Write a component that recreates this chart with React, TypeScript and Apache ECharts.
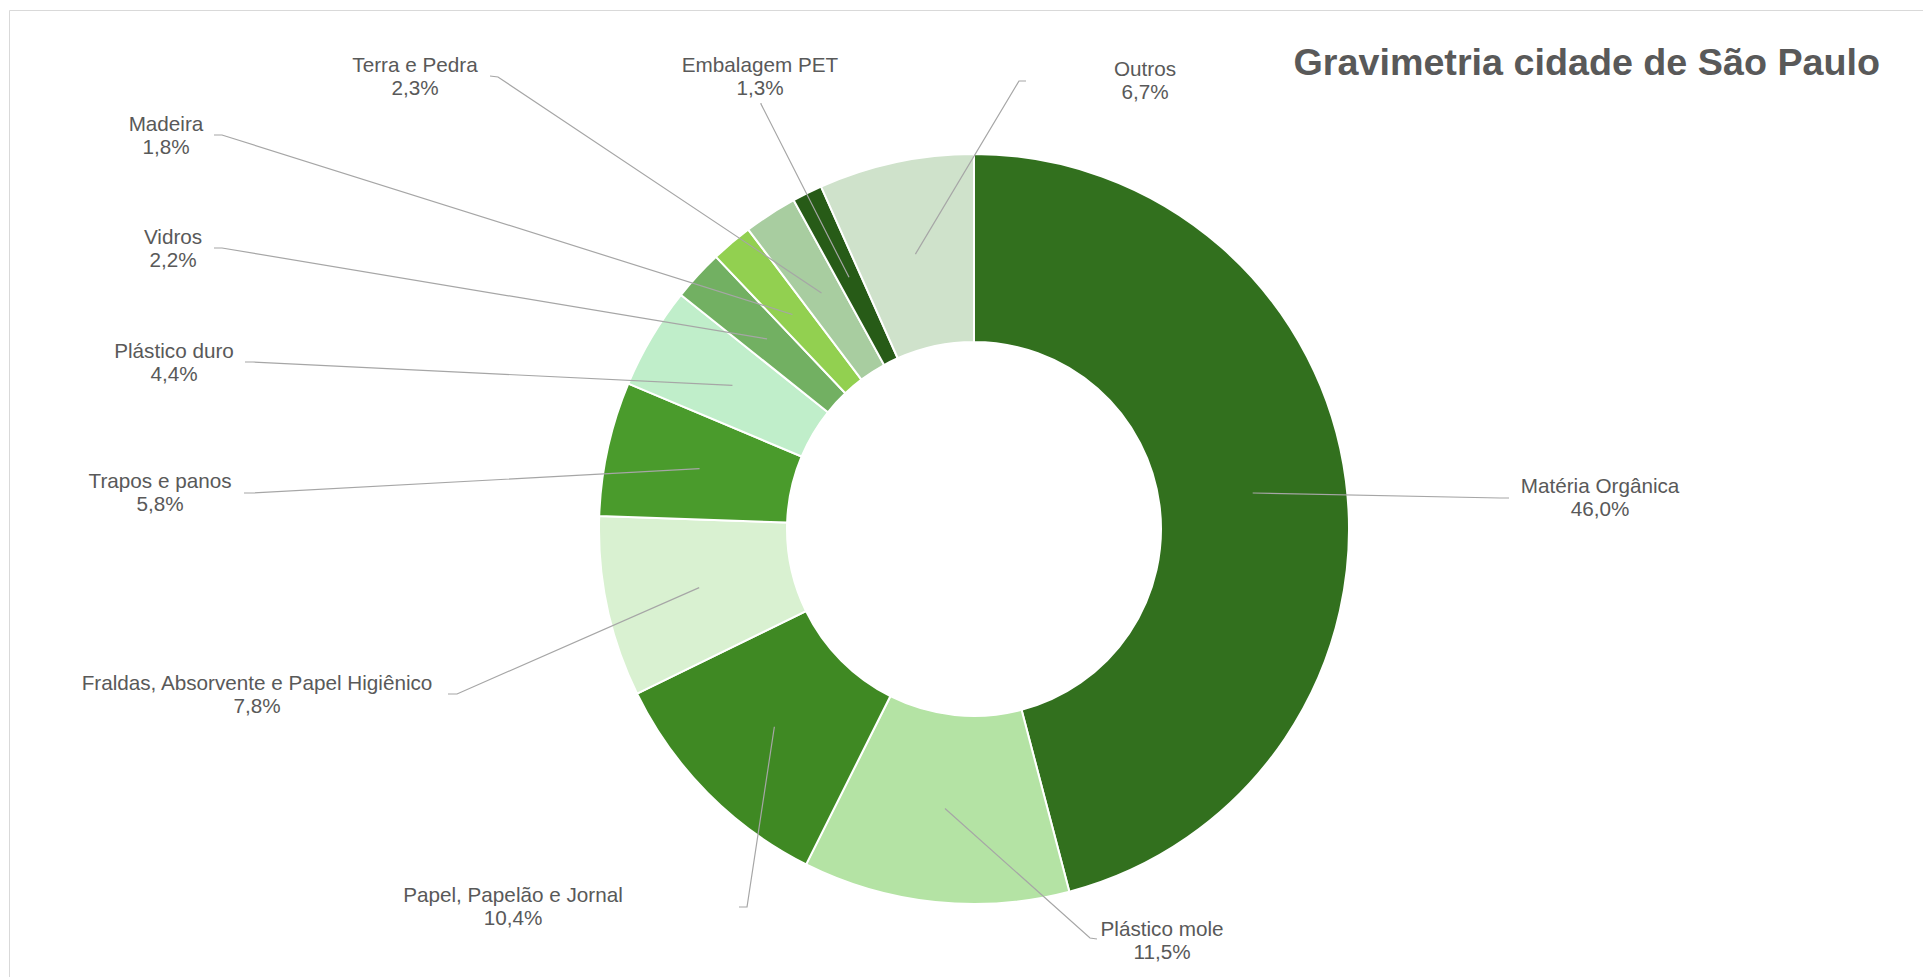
import React, { useEffect, useRef } from "react";
import * as echarts from "echarts";

// ---- data ----
const categories: string[] = [
  "Matéria Orgânica",
  "Plástico mole",
  "Papel, Papelão e Jornal",
  "Fraldas, Absorvente e Papel Higiênico",
  "Trapos e panos",
  "Plástico duro",
  "Vidros",
  "Madeira",
  "Terra e Pedra",
  "Embalagem PET",
  "Outros",
];
const shares: number[] = [46.0, 11.5, 10.4, 7.8, 5.8, 4.4, 2.2, 1.8, 2.3, 1.3, 6.7];
const titleText = "Gravimetria cidade de São Paulo";

// ---- styles / layout ----
const sliceColors: string[] = [
  "#32701E",
  "#B4E3A4",
  "#3F8923",
  "#D9F1D1",
  "#4A9B2C",
  "#C0EECA",
  "#72B062",
  "#92D050",
  "#A8CDA0",
  "#275B17",
  "#CFE2CB",
];
const CX = 974;
const CY = 529;
const R_IN = 187;
const R_OUT = 375;
const R_MID = (R_IN + R_OUT) / 2;
// label block centres
const labelCentres: number[][] = [
  [1600, 497],
  [1162, 940],
  [513, 906],
  [257, 694],
  [160, 492],
  [174, 362],
  [173, 248],
  [166, 135],
  [415, 76],
  [760, 76],
  [1145, 80],
];
// leader line knee and end points [kx, ky, ex, ey]
const leaderEnds: number[][] = [
  [1500, 498, 1509, 498],
  [1090, 938, 1097, 939],
  [747, 907, 739, 907],
  [457, 694, 448, 694],
  [252, 493, 244, 493],
  [253, 362, 245, 362],
  [222, 248, 214, 248],
  [222, 135, 214, 135],
  [498, 77, 490, 76],
  [761, 104, 761, 103],
  [1019, 81, 1026, 81],
];

const FONT = "Liberation Sans, Arial, sans-serif";

function fmtPct(v: number): string {
  return v.toFixed(1).replace(".", ",") + "%";
}

export default function App() {
  const ref = useRef<HTMLDivElement>(null);
  useEffect(() => {
    document.body.style.margin = "0";
    document.body.style.overflow = "hidden";
    if (!ref.current) return;
    const chart = echarts.init(ref.current, undefined, { renderer: "svg" });
    const total = shares.reduce((a, b) => a + b, 0);
    let cum = 0;
    const midAngles = shares.map((v) => {
      const m = ((cum + v / 2) / total) * 2 * Math.PI;
      cum += v;
      return m;
    });
    const sliceData = categories.map((name, i) => ({
      name,
      value: shares[i],
      itemStyle: { color: sliceColors[i] },
    }));
    const labelData = categories.map((name, i) => ({
      name,
      value: shares[i],
    }));
    chart.setOption({
      animation: false,
      backgroundColor: "#ffffff",
      title: {
        text: titleText,
        right: 43,
        top: 43,
        padding: 0,
        textStyle: {
          fontFamily: FONT,
          fontSize: 37.7,
          fontWeight: "bold",
          color: "#595959",
        },
      },
      graphic: [
        {
          type: "rect",
          shape: { x: 9.5, y: 10.5, width: 1940, height: 1000 },
          style: { fill: "none", stroke: "#D9D9D9", lineWidth: 1 },
          silent: true,
        },
      ],
      series: [
        {
          type: "pie",
          z: 2,
          center: [CX, CY],
          radius: [R_IN, R_OUT],
          startAngle: 90,
          clockwise: true,
          silent: true,
          data: sliceData,
          itemStyle: { borderColor: "#ffffff", borderWidth: 2 },
          label: { show: false },
          labelLine: { show: false },
          emphasis: { disabled: true },
        },
        {
          type: "pie",
          z: 5,
          center: [CX, CY],
          radius: [R_IN, R_OUT],
          startAngle: 90,
          clockwise: true,
          silent: true,
          avoidLabelOverlap: false,
          data: labelData,
          itemStyle: { color: "rgba(0,0,0,0)", borderWidth: 0 },
          label: {
            show: true,
            position: "outside",
            formatter: (p: any) => `${p.name}\n${fmtPct(p.value)}`,
            fontFamily: FONT,
            fontSize: 20.7,
            lineHeight: 23,
            color: "#595959",
            align: "center",
          },
          labelLine: {
            show: true,
            lineStyle: { color: "#A6A6A6", width: 1.2 },
          },
          emphasis: { disabled: true },
          labelLayout: (params: any) => {
            const i = params.dataIndex;
            const a = midAngles[i];
            const sx = CX + R_MID * Math.sin(a);
            const sy = CY - R_MID * Math.cos(a);
            const e = leaderEnds[i];
            return {
              x: labelCentres[i][0],
              y: labelCentres[i][1],
              align: "center",
              verticalAlign: "middle",
              labelLinePoints: [
                [sx, sy],
                [e[0], e[1]],
                [e[2], e[3]],
              ],
            };
          },
        },
      ],
    });
    return () => chart.dispose();
  }, []);
  return <div ref={ref} style={{ width: 1923, height: 977 }} />;
}
